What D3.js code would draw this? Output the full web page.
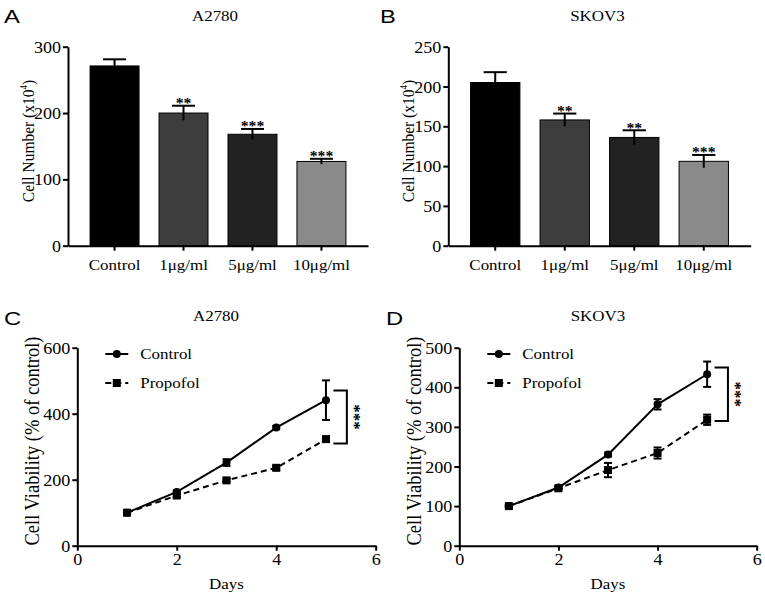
<!DOCTYPE html>
<html><head><meta charset="utf-8">
<script src="https://cdn.jsdelivr.net/npm/d3@7"></script>
<style>
body{margin:0;background:#fff}
</style>
</head><body><svg id="c" width="765" height="600"></svg>
<script>
// ---------- data ----------
const categories = ["Control", "1μg/ml", "5μg/ml", "10μg/ml"];
const barColors = ["#000000", "#3d3d3d", "#222222", "#8a8a8a"];
const a2780Cells = [271, 200, 168, 127];
const a2780CellsErr = [10, 11, 8, 4];
const a2780Stars = ["", "**", "***", "***"];
const skov3Cells = [205, 158, 136, 106];
const skov3CellsErr = [13, 8, 9, 8];
const skov3Stars = ["", "**", "**", "***"];
const barTicksA = [0, 100, 200, 300];
const barTicksB = [0, 50, 100, 150, 200, 250];

const days = [1, 2, 3, 4, 5];
const dayTicks = [0, 2, 4, 6];
const a2780Control = [100, 163, 252, 358, 441];
const a2780ControlErr = [3, 5, 10, 5, 60];
const a2780Propofol = [100, 152, 198, 236, 323];
const a2780PropofolErr = [3, 4, 5, 6, 5];
const skov3Control = [100, 147, 230, 357, 433];
const skov3ControlErr = [2, 4, 5, 13, 32];
const skov3Propofol = [100, 145, 191, 234, 318];
const skov3PropofolErr = [2, 4, 18, 14, 13];
const lineTicksC = [0, 200, 400, 600];
const lineTicksD = [0, 100, 200, 300, 400, 500];
const bracketDays = [5.15, 5.42];
const bracketC = [470, 310];
const bracketD = [450, 315];
const seriesNames = ["Control", "Propofol"];

// ---------- helpers ----------
const SERIF = "'Liberation Serif', 'Times New Roman', Tinos, 'DejaVu Serif', 'Noto Serif', serif";
const SANS = "'Liberation Sans', Arial, Helvetica, sans-serif";
const SX = 1.13;
const svg = d3.select("#c");

function label(g, x, y, str, o = {}) {
  const size = o.size || 15, sx = o.sx || SX;
  const t = g.append("text")
    .attr("transform", `translate(${x},${y}) scale(${sx},1)` + (o.rotate ? ` rotate(${o.rotate})` : ""))
    .attr("text-anchor", o.anchor || "middle")
    .attr("font-size", size)
    .attr("font-weight", o.weight || "normal")
    .attr("font-family", o.family || SERIF)
    .attr("fill", "#000");
  if (o.dy) t.attr("dy", o.dy);
  t.text(str);
  return t;
}

function styleAxis(ag) {
  ag.attr("font-family", SERIF).attr("font-size", 15);
  ag.select(".domain").attr("stroke", "#000").attr("stroke-width", 2);
  ag.selectAll(".tick line").attr("stroke", "#000").attr("stroke-width", 2);
}

function yAxis(g, y, x0, ticks) {
  const ag = g.append("g").attr("transform", `translate(${x0},0)`)
    .call(d3.axisLeft(y).tickValues(ticks).tickSize(5).tickSizeOuter(0).tickFormat(d3.format("d")));
  styleAxis(ag);
  ag.selectAll(".tick text")
    .attr("x", null).attr("dy", "0.35em")
    .attr("transform", `translate(-7,0) scale(${SX},1)`)
    .attr("font-family", SERIF).attr("font-size", 16).attr("fill", "#000");
  return ag;
}

// ---------- bar panels ----------
function barPanel(cfg) {
  const g = svg.append("g");
  const x = d3.scaleBand().domain(categories).range([cfg.x0, cfg.x1])
    .paddingInner(0.29).paddingOuter(0.32);
  const y = d3.scaleLinear().domain([0, cfg.max]).range([cfg.yb, cfg.yt]);

  g.selectAll("rect.bar").data(categories).join("rect")
    .attr("class", "bar")
    .attr("x", d => x(d)).attr("width", x.bandwidth())
    .attr("y", (d, i) => y(cfg.vals[i]))
    .attr("height", (d, i) => y(0) - y(cfg.vals[i]))
    .attr("fill", (d, i) => barColors[i])
    .attr("stroke", "#000").attr("stroke-width", 1);

  const cx = d => x(d) + x.bandwidth() / 2;
  const capW = x.bandwidth() * 0.47;
  g.selectAll("line.err").data(categories).join("line")
    .attr("x1", cx).attr("x2", cx)
    .attr("y1", (d, i) => y(cfg.vals[i] - cfg.err[i]))
    .attr("y2", (d, i) => y(cfg.vals[i] + cfg.err[i]))
    .attr("stroke", "#000").attr("stroke-width", 2);
  g.selectAll("line.cap").data(categories).join("line")
    .attr("x1", d => cx(d) - capW / 2).attr("x2", d => cx(d) + capW / 2)
    .attr("y1", (d, i) => y(cfg.vals[i] + cfg.err[i]))
    .attr("y2", (d, i) => y(cfg.vals[i] + cfg.err[i]))
    .attr("stroke", "#000").attr("stroke-width", 2);

  categories.forEach((d, i) => {
    if (cfg.stars[i]) label(g, cx(d), y(cfg.vals[i] + cfg.err[i]) + 2.5, cfg.stars[i], { size: 15, weight: "bold", sx: 1.05 });
  });

  yAxis(g, y, cfg.x0, cfg.ticks);
  const xa = g.append("g").attr("transform", `translate(0,${cfg.yb})`)
    .call(d3.axisBottom(x).tickSize(5).tickSizeOuter(0));
  styleAxis(xa);
  xa.selectAll(".tick text")
    .attr("y", null).attr("dy", null)
    .attr("transform", `translate(0,24) scale(${SX},1)`)
    .attr("font-family", SERIF).attr("font-size", 15).attr("fill", "#000");

  label(g, cfg.titleX, 20.5, cfg.title, { size: 15 });
  const yl = g.append("text")
    .attr("transform", `translate(${cfg.ylX},${cfg.ylY}) scale(${SX},1) rotate(-90)`)
    .attr("text-anchor", "middle").attr("dy", "0.35em").attr("font-size", 15.5)
    .attr("font-family", SERIF).attr("fill", "#000");
  yl.append("tspan").text("Cell Number (x10");
  yl.append("tspan").attr("dy", -6).attr("font-size", 9).text("4");
  yl.append("tspan").attr("dy", 6).text(")");
  label(g, cfg.letterX, 23, cfg.letter, { size: 19, anchor: "start", sx: 1.25, family: SANS });
}

// ---------- line panels ----------
function linePanel(cfg) {
  const g = svg.append("g");
  const x = d3.scaleLinear().domain([0, 6]).range([cfg.x0, cfg.x1]);
  const y = d3.scaleLinear().domain([0, cfg.max]).range([cfg.yb, cfg.yt]);
  const line = d3.line().x((d, i) => x(days[i])).y(d => y(d));

  g.append("path").datum(cfg.prop).attr("d", line).attr("fill", "none")
    .attr("stroke", "#000").attr("stroke-width", 2).attr("stroke-dasharray", "6,4");
  g.append("path").datum(cfg.ctrl).attr("d", line).attr("fill", "none")
    .attr("stroke", "#000").attr("stroke-width", 2);

  [[cfg.ctrl, cfg.ctrlErr], [cfg.prop, cfg.propErr]].forEach(([v, e]) => {
    days.forEach((dd, i) => {
      const px = x(dd), lo = y(v[i] - e[i]), hi = y(v[i] + e[i]);
      g.append("line").attr("x1", px).attr("x2", px).attr("y1", lo).attr("y2", hi)
        .attr("stroke", "#000").attr("stroke-width", 2);
      [lo, hi].forEach(yy => g.append("line").attr("x1", px - 4).attr("x2", px + 4)
        .attr("y1", yy).attr("y2", yy).attr("stroke", "#000").attr("stroke-width", 2));
    });
  });

  g.selectAll("rect.sq").data(cfg.prop).join("rect")
    .attr("x", (d, i) => x(days[i]) - 4).attr("y", d => y(d) - 4)
    .attr("width", 8).attr("height", 8).attr("fill", "#000");
  g.selectAll("circle.ci").data(cfg.ctrl).join("circle")
    .attr("cx", (d, i) => x(days[i])).attr("cy", d => y(d)).attr("r", 4).attr("fill", "#000");

  // significance bracket
  const bx0 = x(bracketDays[0]), bx1 = x(bracketDays[1]);
  const by0 = y(cfg.bracket[0]), by1 = y(cfg.bracket[1]);
  g.append("path").attr("d", `M${bx0},${by0}H${bx1}V${by1}H${bx0}`)
    .attr("fill", "none").attr("stroke", "#000").attr("stroke-width", 2);
  g.append("text")
    .attr("transform", `translate(${bx1 + 2.5},${(by0 + by1) / 2}) rotate(90)`)
    .attr("text-anchor", "middle").attr("font-size", 17).attr("font-weight", "bold")
    .attr("font-family", SERIF).attr("fill", "#000")
    .text("***");

  yAxis(g, y, cfg.x0, cfg.ticks);
  const xa = g.append("g").attr("transform", `translate(0,${cfg.yb})`)
    .call(d3.axisBottom(x).tickValues(dayTicks).tickSize(5).tickSizeOuter(0).tickFormat(d3.format("d")));
  styleAxis(xa);
  xa.selectAll(".tick text")
    .attr("y", null).attr("dy", null)
    .attr("transform", `translate(0,19.5) scale(${SX},1)`)
    .attr("font-family", SERIF).attr("font-size", 16).attr("fill", "#000");

  // legend
  const lx = cfg.x0 + 28, lx1 = cfg.x0 + 51, lm = (lx + lx1) / 2;
  g.append("line").attr("x1", lx).attr("x2", lx1).attr("y1", 354).attr("y2", 354)
    .attr("stroke", "#000").attr("stroke-width", 2);
  g.append("circle").attr("cx", lm).attr("cy", 354).attr("r", 4).attr("fill", "#000");
  g.append("line").attr("x1", lx).attr("x2", lx1).attr("y1", 383).attr("y2", 383)
    .attr("stroke", "#000").attr("stroke-width", 2).attr("stroke-dasharray", "6,4");
  g.append("rect").attr("x", lm - 4).attr("y", 379).attr("width", 8).attr("height", 8).attr("fill", "#000");
  label(g, cfg.x0 + 63, 359, seriesNames[0], { anchor: "start" });
  label(g, cfg.x0 + 63, 388, seriesNames[1], { anchor: "start" });

  label(g, cfg.titleX, 320.5, cfg.title, { size: 15 });
  label(g, (cfg.x0 + cfg.x1) / 2, 589, "Days", { size: 15 });
  g.append("text")
    .attr("transform", `translate(${cfg.ylX},441) scale(${SX},1) rotate(-90)`)
    .attr("text-anchor", "middle").attr("dy", "0.35em").attr("font-size", 18.5)
    .attr("font-family", SERIF).attr("fill", "#000")
    .text("Cell Viability (% of control)");
  label(g, cfg.letterX, 325, cfg.letter, { size: 19, anchor: "start", sx: 1.25, family: SANS });
}

barPanel({ x0: 68, x1: 368, yb: 245.7, yt: 46.7, max: 300, vals: a2780Cells, err: a2780CellsErr,
  stars: a2780Stars, ticks: barTicksA, title: "A2780", titleX: 215, ylX: 28, ylY: 141, letter: "A", letterX: 4 });
barPanel({ x0: 448.3, x1: 750.7, yb: 245.7, yt: 46.7, max: 250, vals: skov3Cells, err: skov3CellsErr,
  stars: skov3Stars, ticks: barTicksB, title: "SKOV3", titleX: 597.5, ylX: 408, ylY: 141, letter: "B", letterX: 380 });
linePanel({ x0: 77.3, x1: 375.7, yb: 545.7, yt: 347.7, max: 600, ctrl: a2780Control, ctrlErr: a2780ControlErr,
  prop: a2780Propofol, propErr: a2780PropofolErr, ticks: lineTicksC, bracket: bracketC,
  title: "A2780", titleX: 216, ylX: 32, letter: "C", letterX: 4 });
linePanel({ x0: 459.3, x1: 756.7, yb: 545.7, yt: 347.7, max: 500, ctrl: skov3Control, ctrlErr: skov3ControlErr,
  prop: skov3Propofol, propErr: skov3PropofolErr, ticks: lineTicksD, bracket: bracketD,
  title: "SKOV3", titleX: 598, ylX: 414, letter: "D", letterX: 386 });
</script>
</body></html>
